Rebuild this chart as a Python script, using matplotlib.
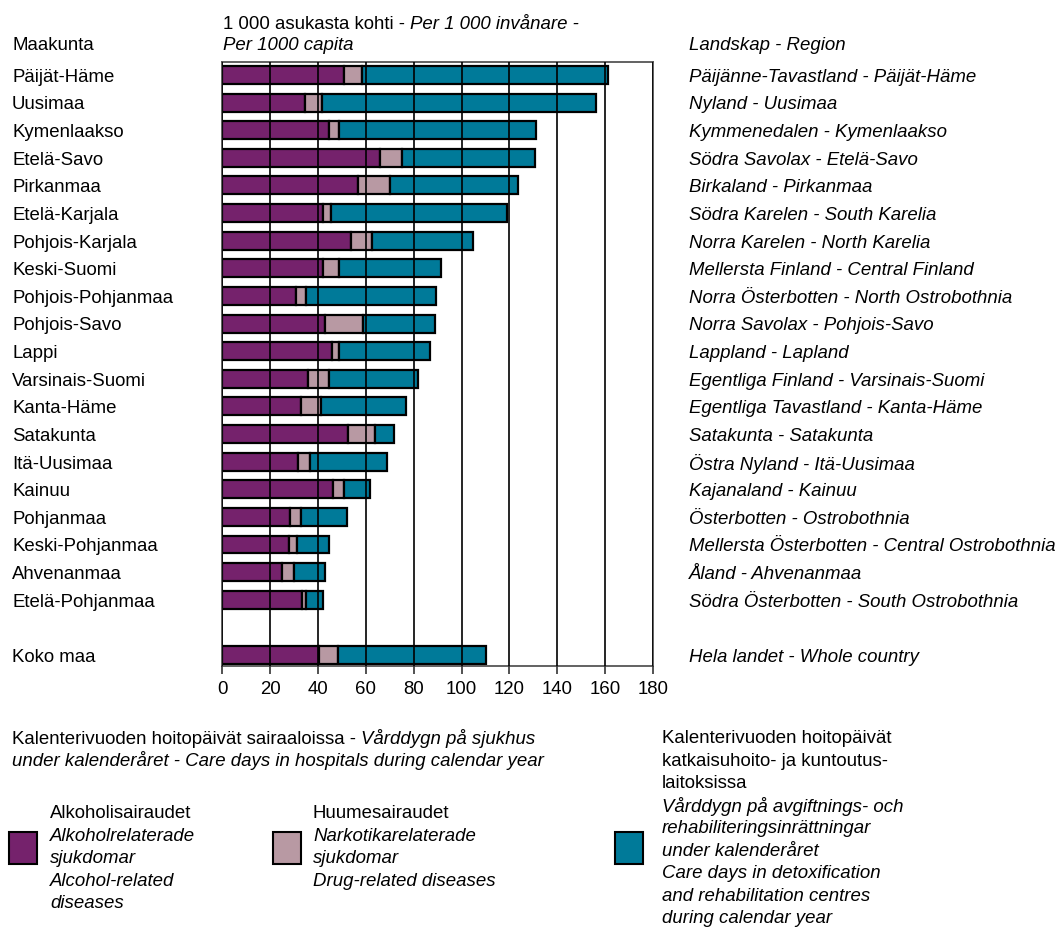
import numpy as np
import matplotlib.pyplot as plt
from matplotlib.patches import Rectangle
from matplotlib.transforms import blended_transform_factory

plt.rcParams['font.family'] = ['Liberation Sans', 'DejaVu Sans']

# Maakunnat ylhäältä alas, viimeisenä koko maa
maakunnat = ["Päijät-Häme", "Uusimaa", "Kymenlaakso", "Etelä-Savo", "Pirkanmaa",
             "Etelä-Karjala", "Pohjois-Karjala", "Keski-Suomi", "Pohjois-Pohjanmaa",
             "Pohjois-Savo", "Lappi", "Varsinais-Suomi", "Kanta-Häme", "Satakunta",
             "Itä-Uusimaa", "Kainuu", "Pohjanmaa", "Keski-Pohjanmaa", "Ahvenanmaa",
             "Etelä-Pohjanmaa", "Koko maa"]
landskap = ["Päijänne-Tavastland - Päijät-Häme", "Nyland - Uusimaa",
            "Kymmenedalen - Kymenlaakso", "Södra Savolax - Etelä-Savo",
            "Birkaland - Pirkanmaa", "Södra Karelen - South Karelia",
            "Norra Karelen - North Karelia", "Mellersta Finland - Central Finland",
            "Norra Österbotten - North Ostrobothnia", "Norra Savolax - Pohjois-Savo",
            "Lappland - Lapland", "Egentliga Finland - Varsinais-Suomi",
            "Egentliga Tavastland - Kanta-Häme", "Satakunta - Satakunta",
            "Östra Nyland - Itä-Uusimaa", "Kajanaland - Kainuu",
            "Österbotten - Ostrobothnia", "Mellersta Österbotten - Central Ostrobothnia",
            "Åland - Ahvenanmaa", "Södra Österbotten - South Ostrobothnia",
            "Hela landet - Whole country"]

# Hoitopäivät / 1 000 asukasta
alkoholi = [50.7, 34.5, 44.4, 65.9, 56.8, 42.2, 53.6, 42.2, 30.8, 42.9, 45.7,
            35.7, 32.9, 52.6, 31.6, 46.2, 28.4, 27.9, 25.1, 33.3, 40.5]
huume = [7.5, 7.0, 4.3, 9.0, 13.2, 3.2, 8.8, 6.5, 4.2, 15.7, 3.0,
         9.0, 8.2, 11.3, 5.2, 4.5, 4.3, 3.2, 5.0, 1.8, 7.7]
katkaisu = [103.1, 114.5, 82.3, 55.7, 53.7, 73.4, 42.2, 42.7, 54.3, 30.3, 38.1,
            37.2, 35.6, 8.0, 32.0, 11.1, 19.4, 13.6, 12.9, 6.8, 62.0]

rivit = list(range(20)) + [21]

c_alko = "#75226c"
c_huume = "#b899a3"
c_katk = "#007a99"

W, H = 1058, 928
FS = 13.4


def px(x, y):
    return x / W, 1 - y / H


fig = plt.figure(figsize=(W / 100, H / 100), dpi=100)
ax = fig.add_axes([222.3 / W, 261 / H, 430.7 / W, 604 / H])

alk = np.array(alkoholi)
hu = np.array(huume)
ka = np.array(katkaisu)
kw = dict(height=0.65, edgecolor="black", linewidth=1.6, zorder=1)
ax.barh(rivit, alk, color=c_alko, **kw)
ax.barh(rivit, hu, left=alk, color=c_huume, **kw)
ax.barh(rivit, ka, left=alk + hu, color=c_katk, **kw)

ax.set_xlim(0, 180)
ax.set_ylim(21.4, -0.47)
ax.set_xticks(range(0, 181, 20))
ax.set_yticks([])
ax.set_axisbelow(False)
ax.grid(axis="x", color="black", linewidth=1.2, zorder=3)
ax.tick_params(axis="x", length=6, width=1.2, pad=4, labelsize=FS, color="#333333")
for s in ax.spines.values():
    s.set_color("#555555")
    s.set_linewidth(1.3)

# Rivien nimet vasemmalle ja oikealle
tr = blended_transform_factory(fig.transFigure, ax.transData)
for r, nimi, nimi2 in zip(rivit, maakunnat, landskap):
    ax.text(12 / W, r + 0.05, nimi, transform=tr, ha="left", va="center", fontsize=FS,
            clip_on=False)
    ax.text(689 / W, r + 0.05, nimi2, transform=tr, ha="left", va="center", fontsize=FS,
            style="italic", clip_on=False)


def teksti(x, y, s, italic=False):
    return fig.text(*px(x, y), s, ha="left", va="center", fontsize=FS,
                    style="italic" if italic else "normal")


def jatko(t, s, italic=True):
    # jatketaan samalla rivillä edellisen tekstin perään
    a = ax.annotate(s, xy=(1, 0), xycoords=t, ha="left", va="bottom",
                    fontsize=FS, style="italic" if italic else "normal",
                    annotation_clip=False)
    return a


# Otsikot
t = fig.text(*px(223, 33), "1 000 asukasta kohti - ", ha="left", va="bottom",
             fontsize=FS)
jatko(t, "Per 1 000 invånare -")
teksti(223, 46, "Per 1000 capita", italic=True)
teksti(12, 46, "Maakunta")
teksti(689, 46, "Landskap - Region", italic=True)

# Selitteet alhaalla
t = fig.text(*px(12, 748), "Kalenterivuoden hoitopäivät sairaaloissa - ",
             ha="left", va="bottom", fontsize=FS)
jatko(t, "Vårddygn på sjukhus")
teksti(12, 761, "under kalenderåret - Care days in hospitals during calendar year",
       italic=True)

rivivali = 22.5
lohkot = [
    (9, 50, 814, c_alko, [("Alkoholisairaudet", False), ("Alkoholrelaterade", True),
                          ("sjukdomar", True), ("Alcohol-related", True),
                          ("diseases", True)]),
    (273, 313, 814, c_huume, [("Huumesairaudet", False), ("Narkotikarelaterade", True),
                              ("sjukdomar", True), ("Drug-related diseases", True)]),
    (615, 662, 739, c_katk, [("Kalenterivuoden hoitopäivät", False),
                             ("katkaisuhoito- ja kuntoutus-", False),
                             ("laitoksissa", False),
                             ("Vårddygn på avgiftnings- och", True),
                             ("rehabiliteringsinrättningar", True),
                             ("under kalenderåret", True),
                             ("Care days in detoxification", True),
                             ("and rehabilitation centres", True),
                             ("during calendar year", True)]),
]
for xr, xt, y0, vari, rivit_txt in lohkot:
    x0, y1 = px(xr, 865)
    fig.add_artist(Rectangle((x0, y1), 28 / W, 32 / H, facecolor=vari,
                             edgecolor="black", linewidth=1.5,
                             transform=fig.transFigure))
    for i, (s, it) in enumerate(rivit_txt):
        teksti(xt, y0 + i * rivivali, s, italic=it)

fig.savefig("out.png", dpi=100)
